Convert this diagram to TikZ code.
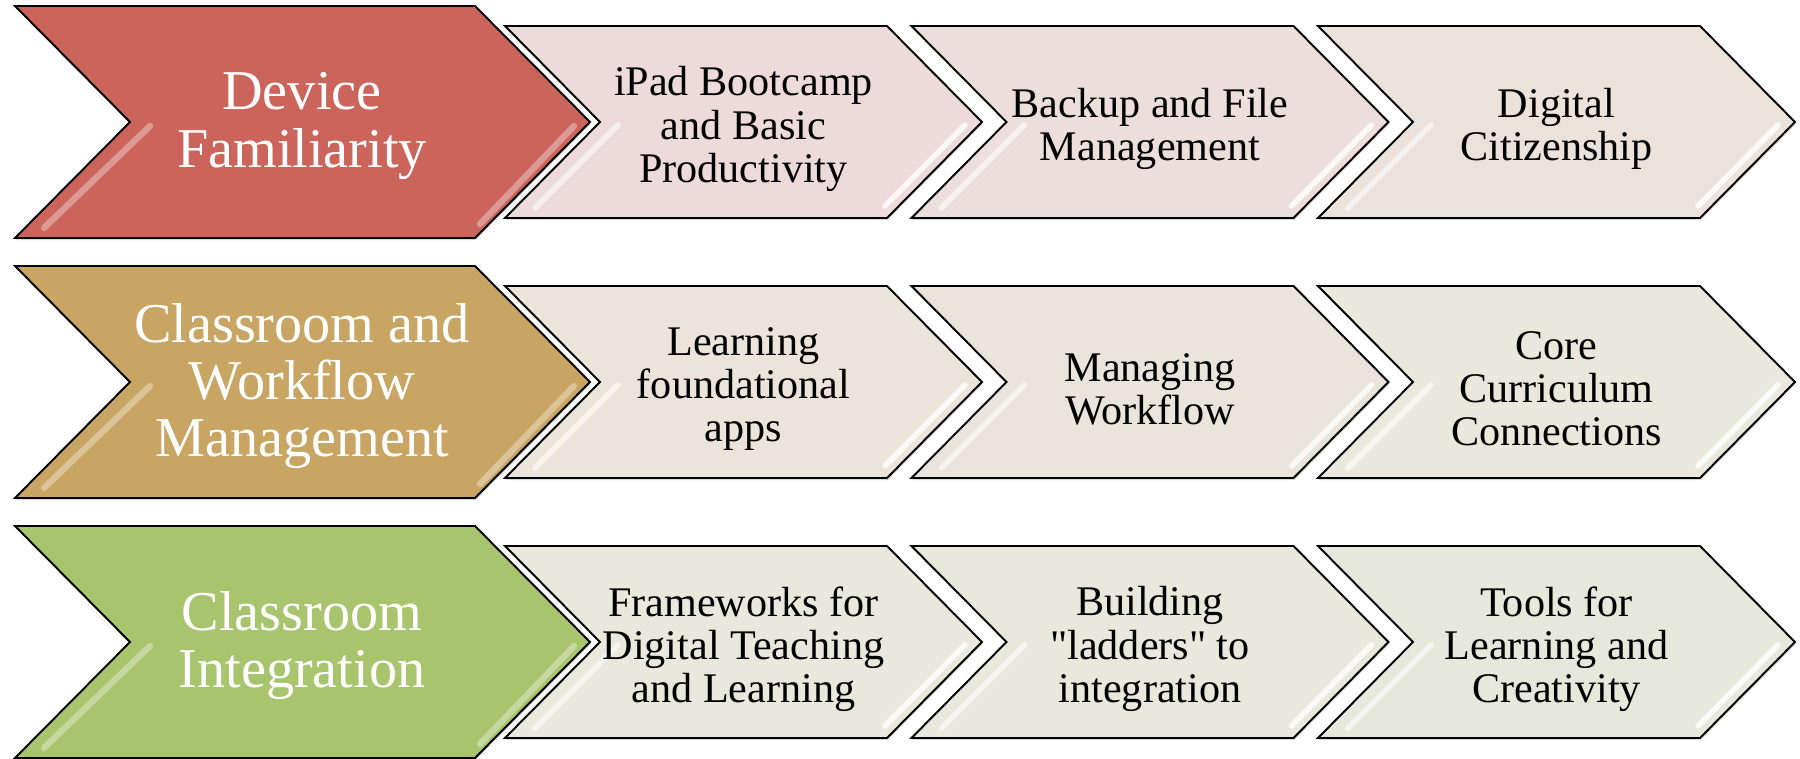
\documentclass[tikz,border=0pt]{standalone}
\usepackage{fontspec}
\setmainfont{Liberation Serif}
\newfontfamily\stepfont{Liberation Serif}
\usetikzlibrary{shadows}

\definecolor{redfill}{HTML}{CB655C}
\definecolor{tanfill}{HTML}{C8A562}
\definecolor{greenfill}{HTML}{A8C46C}
\definecolor{box11}{HTML}{EDDBDB}
\definecolor{box12}{HTML}{ECDEDB}
\definecolor{box13}{HTML}{EBE2DB}
\definecolor{box21}{HTML}{EBE4DB}
\definecolor{box22}{HTML}{EAE5DC}
\definecolor{box23}{HTML}{EAE7DC}
\definecolor{box31}{HTML}{E9E8DC}
\definecolor{box32}{HTML}{E8E8DC}
\definecolor{box33}{HTML}{E7E8DC}

\tikzset{
    bigbox/.style={draw=black,line width=1.1pt,line join=miter,
        drop shadow={opacity=0.3,shadow xshift=0.4pt,shadow yshift=-1.2pt}},
    smallbox/.style={bigbox},
    gloss/.style={white,line width=3.2pt,line cap=round,opacity=0.8},
    biggloss/.style={white,line width=3.6pt,line cap=round,opacity=0.35},
    bigtext/.style={text=white,align=center,font=\fontsize{32}{32.5}\selectfont},
    smalltext/.style={text=black,align=center,font=\stepfont\fontsize{24}{24.6}\selectfont}
}

\begin{document}
\begin{tikzpicture}[x=0.02cm,y=-0.02cm]
    \useasboundingbox (0,0) rectangle (1800,759);

    % stage chevrons
    \foreach \c/\col in {122/redfill,382/tanfill,642/greenfill}{
        \draw[bigbox,fill=\col] (15,\c-116)--(475,\c-116)--(590,\c)--(475,\c+116)--(15,\c+116)--(130,\c)--cycle;
        \draw[biggloss] (574,\c+4)--(480,\c+102);
        \draw[biggloss] (150,\c+4)--(44,\c+106);
    }

    % step chevrons
    \foreach \c/\r in {122/1,382/2,642/3}{
        \foreach \k [evaluate=\k as \l using 505+406.5*(\k-1)] in {1,2,3}{
            \draw[smallbox,fill=box\r\k] (\l,\c-96)--(\l+382,\c-96)--(\l+477,\c)--(\l+382,\c+96)--(\l,\c+96)--(\l+95,\c)--cycle;
            \draw[gloss] (\l+460,\c+3)--(\l+380,\c+84);
            \draw[gloss,opacity=0.6] (\l+113,\c+3)--(\l+30,\c+86);
        }
    }

    \node[bigtext] (devfam) at (302,126) {Device\\Familiarity};
    \node[bigtext] (classwork) at (302,386) {Classroom and\\Workflow\\Management};
    \node[bigtext] (classint) at (302,646) {Classroom\\Integration};

    \node[smalltext] (ipad) at (743.5,129) {iPad Bootcamp\\and Basic\\Productivity};
    \node[smalltext] (backup) at (1150,129) {Backup and File\\Management};
    \node[smalltext] (digcit) at (1556.5,129) {Digital\\Citizenship};

    \node[smalltext] (apps) at (743.5,389) {Learning\\foundational\\apps};
    \node[smalltext] (manage) at (1150,389) {Managing\\Workflow};
    \node[smalltext] (core) at (1556.5,389) {Core\\Curriculum\\Connections};

    \node[smalltext] (frames) at (743.5,649) {Frameworks for\\Digital Teaching\\and Learning};
    \node[smalltext] (ladders) at (1150,649) {Building\\"ladders" to\\integration};
    \node[smalltext] (tools) at (1556.5,649) {Tools for\\Learning and\\Creativity};
\end{tikzpicture}
\end{document}
